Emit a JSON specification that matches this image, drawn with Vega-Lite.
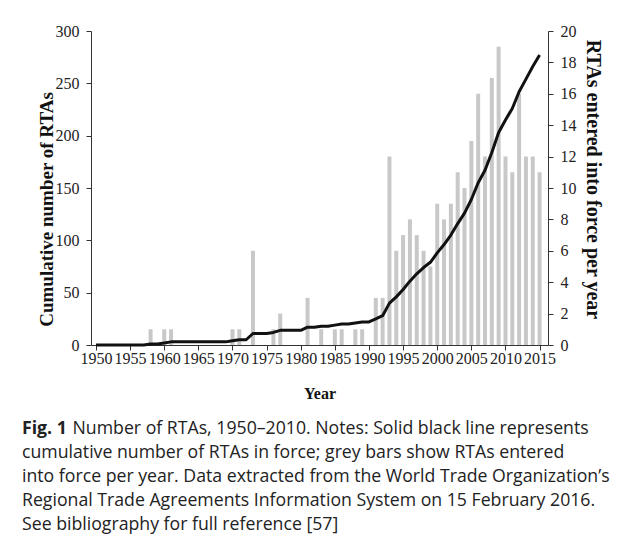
{
  "$schema": "https://vega.github.io/schema/vega-lite/v6.json",
  "width": 457,
  "height": 314,
  "padding": {"left": 22, "top": 23, "right": 5, "bottom": 5},
  "background": "white",
  "config": {
    "view": {"stroke": null},
    "axis": {
      "labelFont": "Liberation Serif",
      "labelFontSize": 16,
      "labelColor": "#222222",
      "titleFont": "Liberation Serif",
      "titleFontSize": 16,
      "titleFontWeight": "bold",
      "titleColor": "#111111",
      "domainColor": "#333333",
      "tickColor": "#333333",
      "tickSize": 5,
      "grid": false
    }
  },
  "title": {
    "text": "Fig. 1",
    "subtitle": [
      "\u200b\u00a0\u00a0\u00a0\u00a0\u00a0\u00a0\u00a0\u00a0\u00a0\u00a0\u00a0Number of RTAs, 1950–2010. Notes: Solid black line represents",
      "cumulative number of RTAs in force; grey bars show RTAs entered",
      "into force per year. Data extracted from the World Trade Organization’s",
      "Regional Trade Agreements Information System on 15 February 2016.",
      "See bibliography for full reference [57]"
    ],
    "orient": "bottom",
    "anchor": "start",
    "frame": "bounds",
    "dx": -15,
    "offset": 19,
    "font": "Open Sans",
    "fontSize": 17.7,
    "fontWeight": "bold",
    "color": "#222222",
    "subtitleFont": "Open Sans",
    "subtitleFontSize": 17.7,
    "subtitleColor": "#222222",
    "subtitleLineHeight": 24,
    "subtitlePadding": -17.7
  },
  "data": {
    "values": [
      {"year": 1950, "count": 0, "cum": 0},
      {"year": 1951, "count": 0, "cum": 0},
      {"year": 1952, "count": 0, "cum": 0},
      {"year": 1953, "count": 0, "cum": 0},
      {"year": 1954, "count": 0, "cum": 0},
      {"year": 1955, "count": 0, "cum": 0},
      {"year": 1956, "count": 0, "cum": 0},
      {"year": 1957, "count": 0, "cum": 0},
      {"year": 1958, "count": 1, "cum": 1},
      {"year": 1959, "count": 0, "cum": 1},
      {"year": 1960, "count": 1, "cum": 2},
      {"year": 1961, "count": 1, "cum": 3},
      {"year": 1962, "count": 0, "cum": 3},
      {"year": 1963, "count": 0, "cum": 3},
      {"year": 1964, "count": 0, "cum": 3},
      {"year": 1965, "count": 0, "cum": 3},
      {"year": 1966, "count": 0, "cum": 3},
      {"year": 1967, "count": 0, "cum": 3},
      {"year": 1968, "count": 0, "cum": 3},
      {"year": 1969, "count": 0, "cum": 3},
      {"year": 1970, "count": 1, "cum": 4},
      {"year": 1971, "count": 1, "cum": 5},
      {"year": 1972, "count": 0, "cum": 5},
      {"year": 1973, "count": 6, "cum": 11},
      {"year": 1974, "count": 0, "cum": 11},
      {"year": 1975, "count": 0, "cum": 11},
      {"year": 1976, "count": 1, "cum": 12},
      {"year": 1977, "count": 2, "cum": 14},
      {"year": 1978, "count": 0, "cum": 14},
      {"year": 1979, "count": 0, "cum": 14},
      {"year": 1980, "count": 0, "cum": 14},
      {"year": 1981, "count": 3, "cum": 17},
      {"year": 1982, "count": 0, "cum": 17},
      {"year": 1983, "count": 1, "cum": 18},
      {"year": 1984, "count": 0, "cum": 18},
      {"year": 1985, "count": 1, "cum": 19},
      {"year": 1986, "count": 1, "cum": 20},
      {"year": 1987, "count": 0, "cum": 20},
      {"year": 1988, "count": 1, "cum": 21},
      {"year": 1989, "count": 1, "cum": 22},
      {"year": 1990, "count": 0, "cum": 22},
      {"year": 1991, "count": 3, "cum": 25},
      {"year": 1992, "count": 3, "cum": 28},
      {"year": 1993, "count": 12, "cum": 40},
      {"year": 1994, "count": 6, "cum": 46},
      {"year": 1995, "count": 7, "cum": 53},
      {"year": 1996, "count": 8, "cum": 61},
      {"year": 1997, "count": 7, "cum": 68},
      {"year": 1998, "count": 6, "cum": 74},
      {"year": 1999, "count": 5, "cum": 79},
      {"year": 2000, "count": 9, "cum": 88},
      {"year": 2001, "count": 8, "cum": 96},
      {"year": 2002, "count": 9, "cum": 105},
      {"year": 2003, "count": 11, "cum": 116},
      {"year": 2004, "count": 10, "cum": 126},
      {"year": 2005, "count": 13, "cum": 139},
      {"year": 2006, "count": 16, "cum": 155},
      {"year": 2007, "count": 12, "cum": 167},
      {"year": 2008, "count": 17, "cum": 184},
      {"year": 2009, "count": 19, "cum": 203},
      {"year": 2010, "count": 12, "cum": 215},
      {"year": 2011, "count": 11, "cum": 226},
      {"year": 2012, "count": 16, "cum": 242},
      {"year": 2013, "count": 12, "cum": 254},
      {"year": 2014, "count": 12, "cum": 266},
      {"year": 2015, "count": 11, "cum": 277}
    ]
  },
  "encoding": {
    "x": {
      "field": "year",
      "type": "quantitative",
      "scale": {"domain": [1950, 2015.5], "nice": false, "zero": false},
      "axis": {
        "title": "Year",
        "values": [1950, 1955, 1960, 1965, 1970, 1975, 1980, 1985, 1990, 1995, 2000, 2005, 2010, 2015],
        "format": "d",
        "labelPadding": 0,
        "titlePadding": 19,
        "labelOverlap": false,
        "labelFlush": false
      }
    }
  },
  "layer": [
    {
      "mark": {"type": "bar", "width": 4, "color": "#c8c8c8"},
      "encoding": {
        "y": {
          "field": "count",
          "type": "quantitative",
          "scale": {"domain": [0, 20], "nice": false},
          "axis": {
            "orient": "right",
            "title": "RTAs entered into force per year",
            "titleFontSize": 20,
            "titleY": 148,
            "values": [0, 2, 4, 6, 8, 10, 12, 14, 16, 18, 20],
            "labelPadding": 7,
            "titlePadding": 6
          }
        }
      }
    },
    {
      "mark": {"type": "line", "color": "#111111", "strokeWidth": 3, "strokeJoin": "round"},
      "encoding": {
        "y": {
          "field": "cum",
          "type": "quantitative",
          "scale": {"domain": [0, 300], "nice": false},
          "axis": {
            "orient": "left",
            "title": "Cumulative number of RTAs",
            "titleFontSize": 19,
            "titleY": 178,
            "values": [0, 50, 100, 150, 200, 250, 300],
            "labelPadding": 7,
            "titlePadding": -1
          }
        }
      }
    }
  ],
  "resolve": {"scale": {"y": "independent"}}
}
